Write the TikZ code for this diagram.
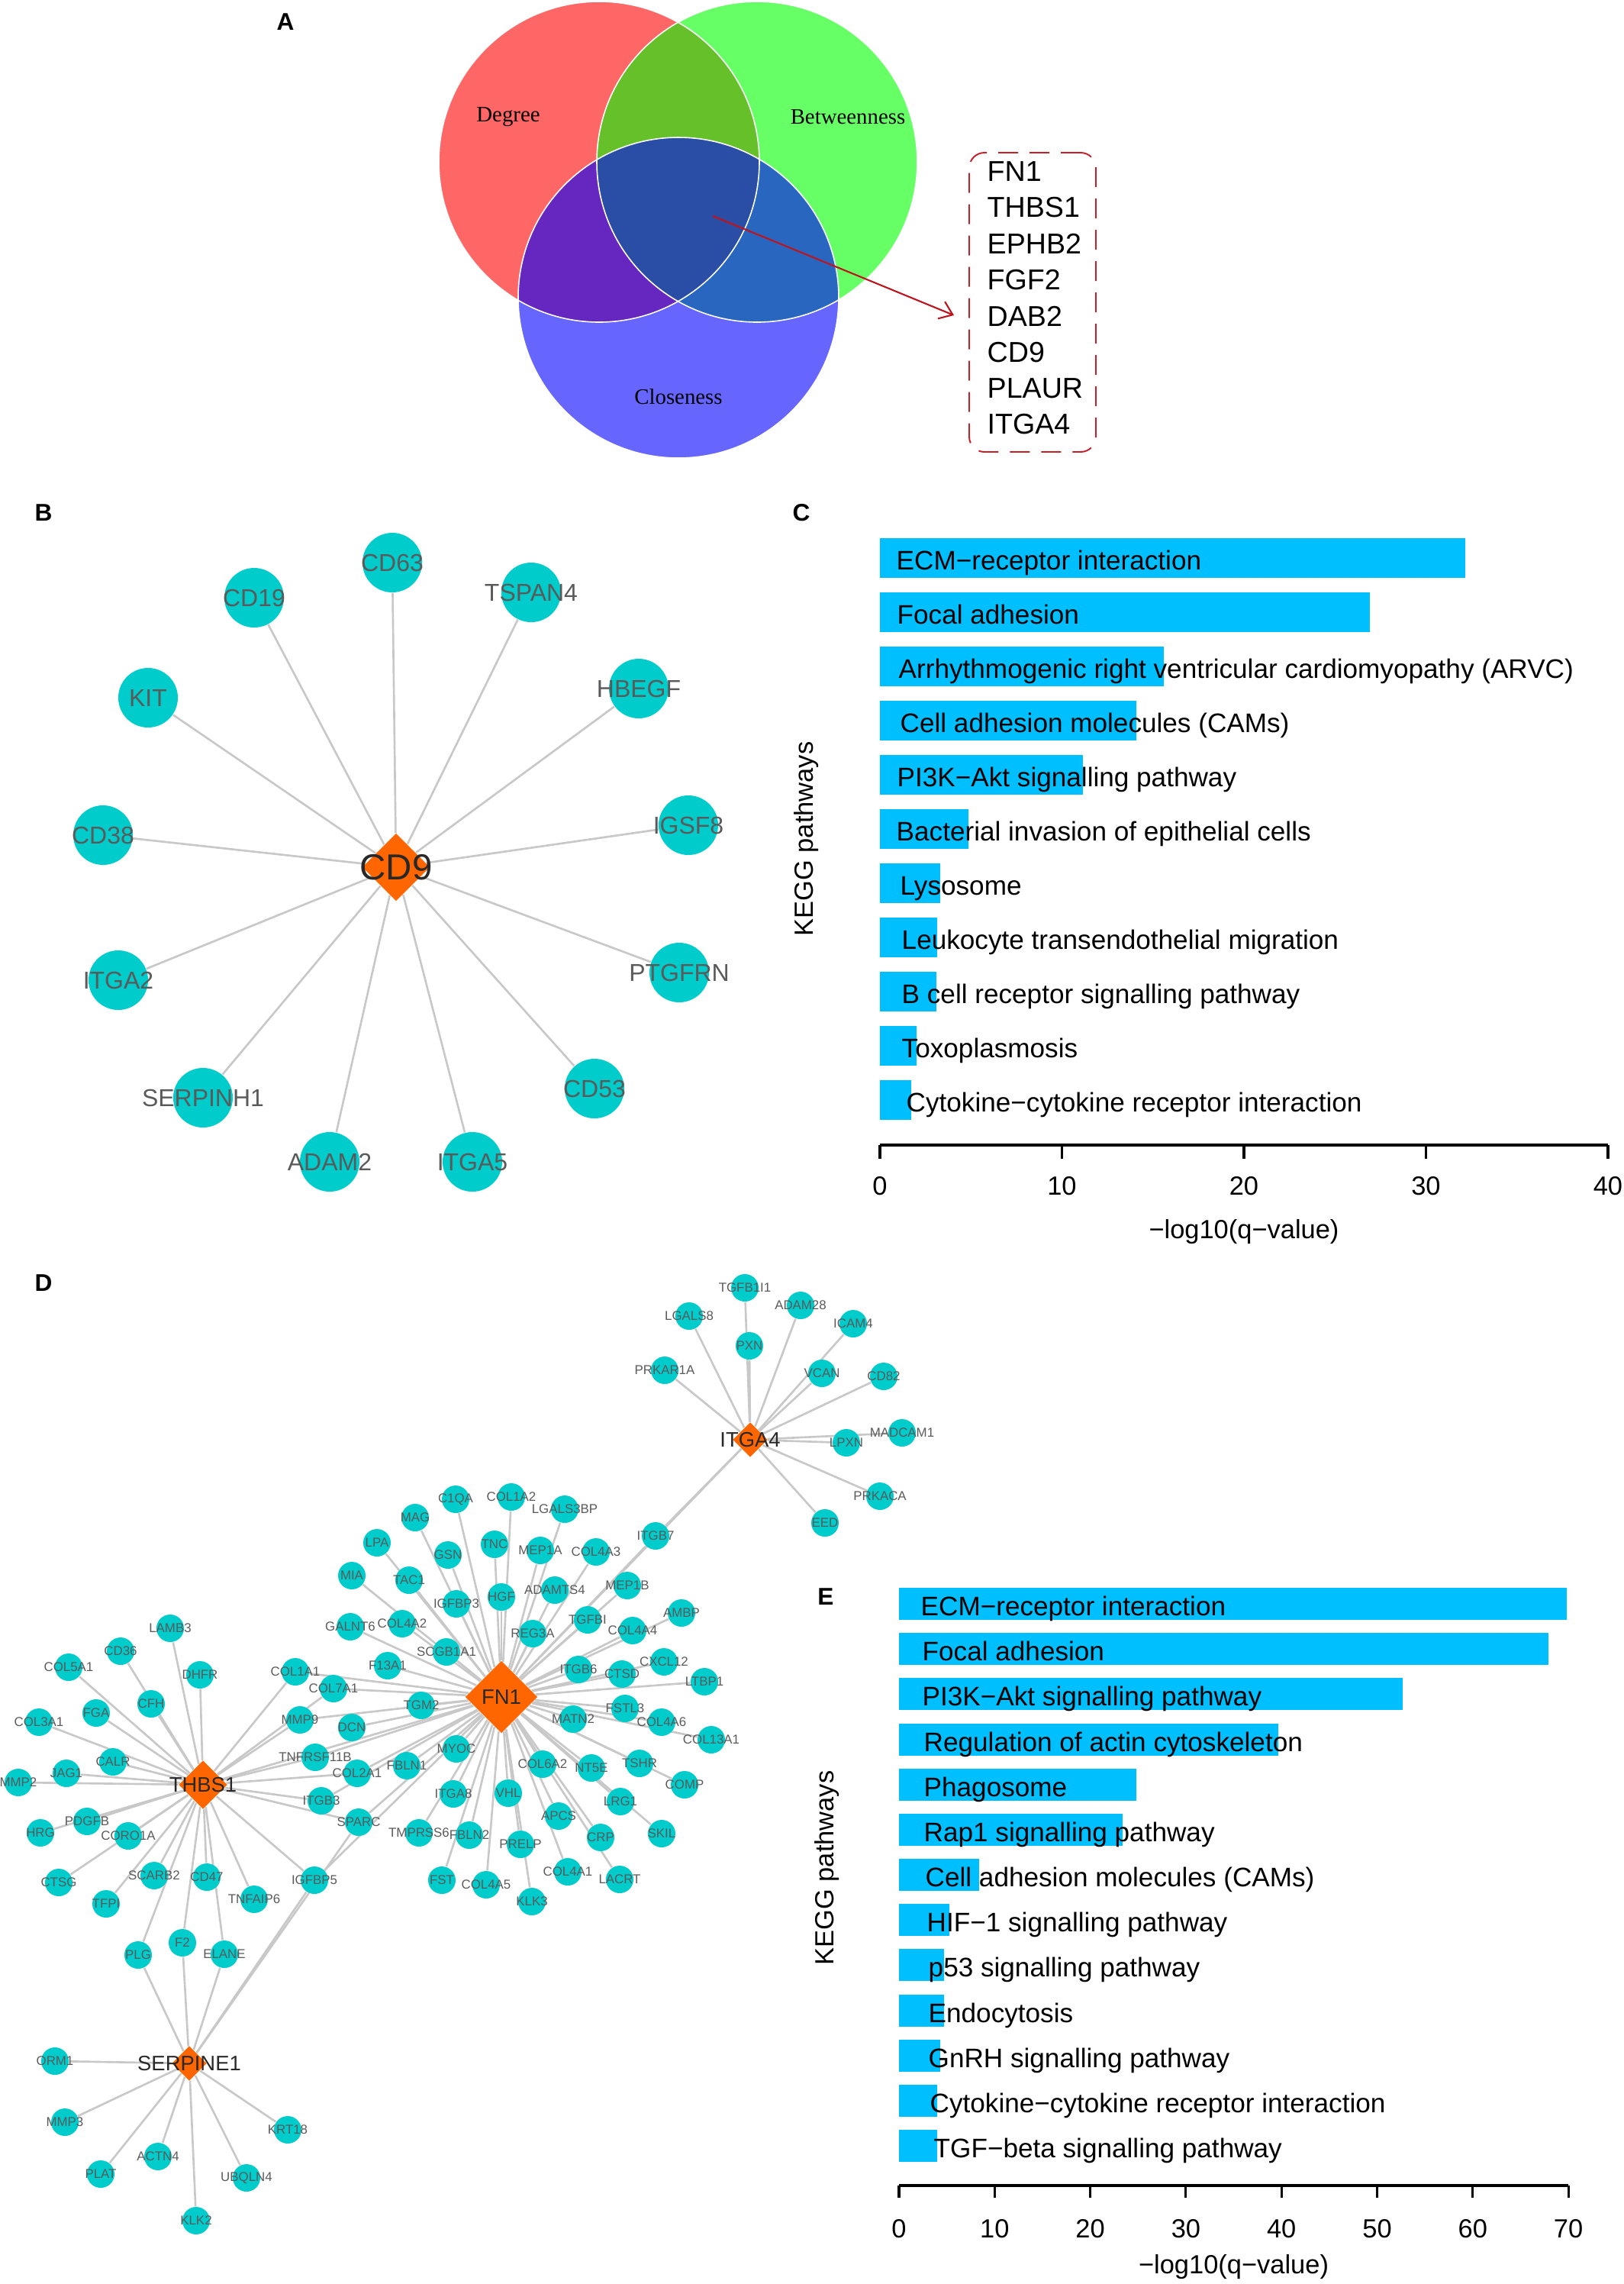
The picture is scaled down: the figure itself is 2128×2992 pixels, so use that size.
\documentclass[tikz,border=0pt]{standalone}
\usepackage{fontspec}
\setmainfont{Liberation Sans}
\newfontfamily\timesfont{Liberation Serif}
\usetikzlibrary{shapes.geometric,arrows.meta,backgrounds}
\definecolor{vred}{RGB}{255,102,102}
\definecolor{vgreen}{RGB}{102,255,102}
\definecolor{vblue}{RGB}{102,102,255}
\definecolor{vrg}{RGB}{102,192,42}
\definecolor{vrb}{RGB}{102,38,192}
\definecolor{vgb}{RGB}{41,102,192}
\definecolor{vrgb}{RGB}{42,77,166}
\definecolor{boxred}{RGB}{200,30,40}
\definecolor{arrred}{RGB}{190,20,30}
\definecolor{geneteal}{RGB}{0,204,204}
\definecolor{hubor}{RGB}{255,102,0}
\definecolor{edgegrey}{RGB}{200,200,200}
\definecolor{glabel}{RGB}{90,90,90}
\definecolor{hlabel}{RGB}{40,40,40}
\definecolor{barblue}{RGB}{0,191,255}
\begin{document}
\begin{tikzpicture}[x=0.1mm,y=-0.1mm,
  leafd/.style={circle,fill=geneteal,inner sep=0pt,minimum size=3.6mm,label={[font=\fontsize{4.8}{5}\selectfont,text=glabel]center:#1}},
  hubd/.style={diamond,aspect=1,fill=hubor,inner sep=0pt,label={[font=\fontsize{7.8}{8}\selectfont,text=hlabel]center:#1}},
  leafb/.style={circle,fill=geneteal,inner sep=0pt,minimum size=7.8mm,label={[font=\fontsize{9.1}{10}\selectfont,text=glabel]center:#1}},
  hubb/.style={diamond,aspect=1,fill=hubor,inner sep=0pt,minimum size=8.9mm,label={[font=\fontsize{13.5}{14}\selectfont,text=hlabel]center:#1}},
  link/.style={draw=edgegrey,line width=0.75pt},
  bar/.style={fill=barblue},
  barlabel/.style={anchor=base west,inner sep=0pt,font=\fontsize{10}{12}\selectfont},
  axislabel/.style={inner sep=0pt,font=\fontsize{9.8}{12}\selectfont},
  axisline/.style={line width=0.9pt},
  panel/.style={inner sep=0pt,font=\fontsize{9}{11}\selectfont\bfseries},
  venn/.style={inner sep=0pt,font=\timesfont\fontsize{8.2}{10}\selectfont},
  listtext/.style={anchor=west,inner sep=0pt,font=\fontsize{10.7}{12}\selectfont}]
\useasboundingbox (0,0) rectangle (2128,2992);

\node[panel] (pa) at (374,29) {A};
\node[panel] (pb) at (57,672) {B};
\node[panel] (pc) at (1050,672) {C};
\node[panel] (pd) at (57,1681) {D};
\node[panel] (pe) at (1082,2092) {E};

\fill[vred] (785,212) circle (210);
\fill[vgreen] (992,212) circle (210);
\fill[vblue] (889,390) circle (210);
\begin{scope}
\clip (785,212) circle (210);
\fill[vrg] (992,212) circle (210);
\end{scope}
\begin{scope}
\clip (785,212) circle (210);
\fill[vrb] (889,390) circle (210);
\end{scope}
\begin{scope}
\clip (992,212) circle (210);
\fill[vgb] (889,390) circle (210);
\end{scope}
\begin{scope}
\clip (785,212) circle (210);
\clip (992,212) circle (210);
\fill[vrgb] (889,390) circle (210);
\end{scope}
\draw[white,line width=0.45pt] (785,212) circle (210);
\draw[white,line width=0.45pt] (992,212) circle (210);
\draw[white,line width=0.45pt] (889,390) circle (210);
\node[venn] (deg) at (666,153) {Degree};
\node[venn] (btw) at (1111,153) {Betweenness};
\node[venn] (clo) at (889,520) {Closeness};

\node[draw=boxred,line width=0.55pt,dash pattern=on 2.6mm off 1.5mm,rounded corners=2mm,minimum width=16.6mm,minimum height=39.2mm] (hublist) at (1353,396) {};
\node[listtext] (l1) at (1293,225) {FN1};
\node[listtext] (l2) at (1293,272) {THBS1};
\node[listtext] (l3) at (1293,319) {EPHB2};
\node[listtext] (l4) at (1293,367) {FGF2};
\node[listtext] (l5) at (1293,414) {DAB2};
\node[listtext] (l6) at (1293,462) {CD9};
\node[listtext] (l7) at (1293,509) {PLAUR};
\node[listtext] (l8) at (1293,556) {ITGA4};
\coordinate (arrtail) at (934,283);
\coordinate (arrtip) at (1250,413);
\draw[arrred,line width=0.6pt,-{Straight Barb[length=1.6mm,width=2.4mm]}] (arrtail) -- (arrtip);

\node[hubb=CD9] (cd9) at (519,1136) {};
\node[leafb=CD63] (cd63) at (514,737) {};
\node[leafb=CD19] (cd19) at (333,783) {};
\node[leafb=TSPAN4] (tspan4) at (696,776) {};
\node[leafb=KIT] (kit) at (194,914) {};
\node[leafb=HBEGF] (hbegf) at (837,902) {};
\node[leafb=CD38] (cd38) at (135,1094) {};
\node[leafb=IGSF8] (igsf8) at (902,1081) {};
\node[leafb=ITGA2] (itga2) at (155,1284) {};
\node[leafb=PTGFRN] (ptgfrn) at (890,1274) {};
\node[leafb=SERPINH1] (serpinh1) at (266,1438) {};
\node[leafb=CD53] (cd53) at (779,1426) {};
\node[leafb=ADAM2] (adam2) at (432,1522) {};
\node[leafb=ITGA5] (itga5) at (619,1522) {};

\node[leafd=TGFB1I1] (tgfbii) at (976,1687) {};
\node[leafd=ADAM28] (adam28) at (1049,1710) {};
\node[leafd=LGALS8] (lgals8) at (903,1724) {};
\node[leafd=ICAM4] (icam4) at (1118,1734) {};
\node[leafd=PXN] (pxn) at (982,1763) {};
\node[leafd=PRKAR1A] (prkar1a) at (871,1795) {};
\node[leafd=VCAN] (vcan) at (1077,1799) {};
\node[leafd=CD82] (cd82) at (1158,1803) {};
\node[leafd=MADCAM1] (madcam1) at (1182,1877) {};
\node[leafd=LPXN] (lpxn) at (1109,1890) {};
\node[leafd=PRKACA] (prkaca) at (1153,1960) {};
\node[leafd=EED] (eed) at (1081,1995) {};
\node[leafd=ITGB7] (itgb7) at (859,2012) {};

\node[leafd=C1QA] (c1qa) at (597,1964) {};
\node[leafd=COL1A2] (col1a2) at (670,1961) {};
\node[leafd=MAG] (mag) at (544,1988) {};
\node[leafd=LPA] (lpa) at (494,2021) {};
\node[leafd=TNC] (tnc) at (648,2023) {};
\node[leafd=GSN] (gsn) at (587,2037) {};
\node[leafd=MEP1A] (mep1a) at (708,2031) {};
\node[leafd=MIA] (mia) at (461,2064) {};
\node[leafd=TAC1] (tac1) at (536,2070) {};
\node[leafd=HGF] (hgf) at (657,2092) {};
\node[leafd=IGFBP3] (igfbp3) at (598,2101) {};
\node[leafd=GALNT6] (galnt6) at (459,2131) {};
\node[leafd=COL4A2] (col4a2) at (527,2127) {};
\node[leafd=REG3A] (reg3a) at (698,2140) {};
\node[leafd=SCGB1A1] (scgb1a1) at (585,2164) {};
\node[leafd=F13A1] (f13a1) at (508,2182) {};
\node[leafd=LGALS3BP] (lgals3bp) at (740,1977) {};
\node[leafd=COL4A3] (col4a3) at (781,2033) {};
\node[leafd=MEP1B] (mep1b) at (822,2077) {};
\node[leafd=ADAMTS4] (adamts4) at (727,2083) {};
\node[leafd=AMBP] (ambp) at (893,2113) {};
\node[leafd=TGFBI] (tgfbi) at (770,2122) {};
\node[leafd=COL4A4] (col4a4) at (829,2136) {};
\node[leafd=ITGB6] (itgb6) at (758,2187) {};
\node[leafd=CTSD] (ctsd) at (815,2193) {};
\node[leafd=CXCL12] (cxcl12) at (870,2177) {};
\node[leafd=LTBP1] (ltbp1) at (923,2203) {};
\node[leafd=FSTL3] (fstl3) at (819,2238) {};
\node[leafd=MATN2] (matn2) at (751,2252) {};
\node[leafd=COL4A6] (col4a6) at (867,2256) {};
\node[leafd=COL13A1] (col13a1) at (932,2279) {};
\node[leafd=COL6A2] (col6a2) at (711,2311) {};
\node[leafd=NT5E] (nt5e) at (775,2316) {};
\node[leafd=TSHR] (tshr) at (838,2310) {};
\node[leafd=COMP] (comp) at (897,2338) {};
\node[leafd=LRG1] (lrg1) at (813,2360) {};
\node[leafd=APCS] (apcs) at (732,2379) {};
\node[leafd=SKIL] (skil) at (867,2402) {};
\node[leafd=CRP] (crp) at (787,2407) {};
\node[leafd=COL4A1] (col4a1) at (744,2452) {};
\node[leafd=LACRT] (lacrt) at (812,2462) {};
\node[leafd=KLK3] (klk3) at (697,2491) {};
\node[leafd=PRELP] (prelp) at (682,2416) {};
\node[leafd=VHL] (vhl) at (666,2349) {};
\node[leafd=COL4A5] (col4a5) at (637,2469) {};
\node[leafd=FST] (fst) at (579,2463) {};
\node[leafd=FBLN2] (fbln2) at (615,2404) {};
\node[leafd=TMPRSS6] (tmprss6) at (549,2401) {};
\node[leafd=ITGA8] (itga8) at (594,2350) {};
\node[leafd=MYOC] (myoc) at (598,2291) {};
\node[leafd=FBLN1] (fbln1) at (533,2313) {};
\node[leafd=COL2A1] (col2a1) at (468,2323) {};
\node[leafd=DCN] (dcn) at (461,2263) {};
\node[leafd=TGM2] (tgm2) at (552,2234) {};
\node[leafd=COL7A1] (col7a1) at (437,2212) {};
\node[leafd=COL1A1] (col1a1) at (387,2190) {};
\node[leafd=MMP9] (mmp9) at (393,2253) {};
\node[leafd=TNFRSF11B] (tnfrsf11b) at (413,2302) {};
\node[leafd=ITGB3] (itgb3) at (421,2359) {};
\node[leafd=SPARC] (sparc) at (470,2387) {};
\node[leafd=IGFBP5] (igfbp5) at (412,2463) {};

\node[leafd=LAMB3] (lamb3) at (223,2133) {};
\node[leafd=CD36] (cd36) at (158,2163) {};
\node[leafd=COL5A1] (col5a1) at (90,2184) {};
\node[leafd=DHFR] (dhfr) at (262,2194) {};
\node[leafd=CFH] (cfh) at (198,2232) {};
\node[leafd=FGA] (fga) at (126,2244) {};
\node[leafd=COL3A1] (col3a1) at (51,2256) {};
\node[leafd=CALR] (calr) at (148,2308) {};
\node[leafd=JAG1] (jag1) at (87,2323) {};
\node[leafd=MMP2] (mmp2) at (24,2335) {};
\node[leafd=HRG] (hrg) at (53,2401) {};
\node[leafd=PDGFB] (pdgfb) at (114,2386) {};
\node[leafd=CORO1A] (coro1a) at (168,2405) {};
\node[leafd=CTSG] (ctsg) at (77,2466) {};
\node[leafd=SCARB2] (scarb2) at (202,2457) {};
\node[leafd=CD47] (cd47) at (271,2459) {};
\node[leafd=TFPI] (tfpi) at (139,2494) {};
\node[leafd=TNFAIP6] (tnfaip6) at (333,2488) {};
\node[leafd=F2] (f2) at (239,2545) {};
\node[leafd=PLG] (plg) at (181,2561) {};
\node[leafd=ELANE] (elane) at (294,2560) {};

\node[leafd=ORM1] (orm1) at (72,2700) {};
\node[leafd=MMP3] (mmp3) at (85,2780) {};
\node[leafd=KRT18] (krt18) at (377,2790) {};
\node[leafd=ACTN4] (actn4) at (207,2825) {};
\node[leafd=PLAT] (plat) at (132,2848) {};
\node[leafd=UBQLN4] (ubqln4) at (323,2853) {};
\node[leafd=KLK2] (klk2) at (257,2909) {};

\node[hubd=ITGA4,minimum size=4.6mm] (itga4) at (983,1886) {};
\node[hubd=THBS1,minimum size=6.4mm] (thbs1) at (266,2338) {};
\node[hubd=SERPINE1,minimum size=4.6mm] (serpine1) at (248,2703) {};
\node[hubd=FN1,minimum size=9.5mm] (fn1) at (657,2223) {};

\begin{scope}[on background layer]
\draw[link] (cd9) -- (cd63);
\draw[link] (cd9) -- (cd19);
\draw[link] (cd9) -- (tspan4);
\draw[link] (cd9) -- (kit);
\draw[link] (cd9) -- (hbegf);
\draw[link] (cd9) -- (cd38);
\draw[link] (cd9) -- (igsf8);
\draw[link] (cd9) -- (itga2);
\draw[link] (cd9) -- (ptgfrn);
\draw[link] (cd9) -- (serpinh1);
\draw[link] (cd9) -- (cd53);
\draw[link] (cd9) -- (adam2);
\draw[link] (cd9) -- (itga5);

\draw[link] (itga4) -- (tgfbii);
\draw[link] (itga4) -- (adam28);
\draw[link] (itga4) -- (lgals8);
\draw[link] (itga4) -- (icam4);
\draw[link] (itga4) -- (pxn);
\draw[link] (itga4) -- (prkar1a);
\draw[link] (itga4) -- (vcan);
\draw[link] (itga4) -- (cd82);
\draw[link] (itga4) -- (madcam1);
\draw[link] (itga4) -- (lpxn);
\draw[link] (itga4) -- (prkaca);
\draw[link] (itga4) -- (eed);
\draw[link] (itga4) -- (itgb7);
\draw[link] (itga4) -- (fn1);

\draw[link] (fn1) -- (c1qa);
\draw[link] (fn1) -- (col1a2);
\draw[link] (fn1) -- (mag);
\draw[link] (fn1) -- (lpa);
\draw[link] (fn1) -- (tnc);
\draw[link] (fn1) -- (gsn);
\draw[link] (fn1) -- (mep1a);
\draw[link] (fn1) -- (mia);
\draw[link] (fn1) -- (tac1);
\draw[link] (fn1) -- (hgf);
\draw[link] (fn1) -- (igfbp3);
\draw[link] (fn1) -- (galnt6);
\draw[link] (fn1) -- (col4a2);
\draw[link] (fn1) -- (reg3a);
\draw[link] (fn1) -- (scgb1a1);
\draw[link] (fn1) -- (f13a1);
\draw[link] (fn1) -- (lgals3bp);
\draw[link] (fn1) -- (col4a3);
\draw[link] (fn1) -- (mep1b);
\draw[link] (fn1) -- (adamts4);
\draw[link] (fn1) -- (ambp);
\draw[link] (fn1) -- (tgfbi);
\draw[link] (fn1) -- (col4a4);
\draw[link] (fn1) -- (itgb7);
\draw[link] (fn1) -- (itgb6);
\draw[link] (fn1) -- (ctsd);
\draw[link] (fn1) -- (cxcl12);
\draw[link] (fn1) -- (ltbp1);
\draw[link] (fn1) -- (fstl3);
\draw[link] (fn1) -- (matn2);
\draw[link] (fn1) -- (col4a6);
\draw[link] (fn1) -- (col13a1);
\draw[link] (fn1) -- (col6a2);
\draw[link] (fn1) -- (nt5e);
\draw[link] (fn1) -- (tshr);
\draw[link] (fn1) -- (comp);
\draw[link] (fn1) -- (lrg1);
\draw[link] (fn1) -- (apcs);
\draw[link] (fn1) -- (skil);
\draw[link] (fn1) -- (crp);
\draw[link] (fn1) -- (col4a1);
\draw[link] (fn1) -- (lacrt);
\draw[link] (fn1) -- (klk3);
\draw[link] (fn1) -- (prelp);
\draw[link] (fn1) -- (vhl);
\draw[link] (fn1) -- (col4a5);
\draw[link] (fn1) -- (fst);
\draw[link] (fn1) -- (fbln2);
\draw[link] (fn1) -- (tmprss6);
\draw[link] (fn1) -- (itga8);
\draw[link] (fn1) -- (myoc);
\draw[link] (fn1) -- (fbln1);
\draw[link] (fn1) -- (col2a1);
\draw[link] (fn1) -- (dcn);
\draw[link] (fn1) -- (tgm2);
\draw[link] (fn1) -- (col7a1);
\draw[link] (fn1) -- (col1a1);
\draw[link] (fn1) -- (mmp9);
\draw[link] (fn1) -- (tnfrsf11b);
\draw[link] (fn1) -- (itgb3);
\draw[link] (fn1) -- (sparc);
\draw[link] (fn1) -- (igfbp5);
\draw[link] (fn1) -- (thbs1);

\draw[link] (thbs1) -- (lamb3);
\draw[link] (thbs1) -- (cd36);
\draw[link] (thbs1) -- (col5a1);
\draw[link] (thbs1) -- (dhfr);
\draw[link] (thbs1) -- (cfh);
\draw[link] (thbs1) -- (fga);
\draw[link] (thbs1) -- (col3a1);
\draw[link] (thbs1) -- (calr);
\draw[link] (thbs1) -- (jag1);
\draw[link] (thbs1) -- (mmp2);
\draw[link] (thbs1) -- (hrg);
\draw[link] (thbs1) -- (pdgfb);
\draw[link] (thbs1) -- (coro1a);
\draw[link] (thbs1) -- (ctsg);
\draw[link] (thbs1) -- (scarb2);
\draw[link] (thbs1) -- (cd47);
\draw[link] (thbs1) -- (tfpi);
\draw[link] (thbs1) -- (tnfaip6);
\draw[link] (thbs1) -- (f2);
\draw[link] (thbs1) -- (plg);
\draw[link] (thbs1) -- (elane);
\draw[link] (thbs1) -- (igfbp5);
\draw[link] (thbs1) -- (col1a1);
\draw[link] (thbs1) -- (mmp9);
\draw[link] (thbs1) -- (col7a1);
\draw[link] (thbs1) -- (tnfrsf11b);
\draw[link] (thbs1) -- (col2a1);
\draw[link] (thbs1) -- (itgb3);
\draw[link] (thbs1) -- (sparc);

\draw[link] (serpine1) -- (orm1);
\draw[link] (serpine1) -- (mmp3);
\draw[link] (serpine1) -- (krt18);
\draw[link] (serpine1) -- (actn4);
\draw[link] (serpine1) -- (plat);
\draw[link] (serpine1) -- (ubqln4);
\draw[link] (serpine1) -- (klk2);
\draw[link] (serpine1) -- (plg);
\draw[link] (serpine1) -- (f2);
\draw[link] (serpine1) -- (elane);
\draw[link] (serpine1) -- (igfbp5);
\draw[link] (serpine1) -- (sparc);
\end{scope}

\begin{scope}[shift={(1153,0)},x=2.385mm]
\fill[bar] (0,705) rectangle (32.15,757);
\fill[bar] (0,776) rectangle (26.91,828);
\fill[bar] (0,847) rectangle (15.61,899);
\fill[bar] (0,918) rectangle (14.07,970);
\fill[bar] (0,989) rectangle (11.17,1041);
\fill[bar] (0,1060) rectangle (4.87,1112);
\fill[bar] (0,1131) rectangle (3.30,1183);
\fill[bar] (0,1202) rectangle (3.15,1254);
\fill[bar] (0,1273) rectangle (3.09,1325);
\fill[bar] (0,1344) rectangle (2.03,1396);
\fill[bar] (0,1415) rectangle (1.70,1467);
\draw[axisline] (0,1500) -- (40,1500);
\draw[axisline] (0,1500) -- (0,1518);
\draw[axisline] (10,1500) -- (10,1518);
\draw[axisline] (20,1500) -- (20,1518);
\draw[axisline] (30,1500) -- (30,1518);
\draw[axisline] (40,1500) -- (40,1518);
\node[axislabel] (ct0) at (0,1554) {0};
\node[axislabel] (ct10) at (10,1554) {10};
\node[axislabel] (ct20) at (20,1554) {20};
\node[axislabel] (ct30) at (30,1554) {30};
\node[axislabel] (ct40) at (40,1554) {40};
\node[axislabel] (cx) at (20,1614) {−log10(q−value)};
\end{scope}
\node[axislabel,rotate=90] (cy) at (1057,1099) {KEGG pathways};
\node[barlabel] (c1) at (1174,746) {ECM−receptor interaction};
\node[barlabel] (c2) at (1175,817) {Focal adhesion};
\node[barlabel] (c3) at (1177,888) {Arrhythmogenic right ventricular cardiomyopathy (ARVC)};
\node[barlabel] (c4) at (1179,959) {Cell adhesion molecules (CAMs)};
\node[barlabel] (c5) at (1175,1030) {PI3K−Akt signalling pathway};
\node[barlabel] (c6) at (1174,1101) {Bacterial invasion of epithelial cells};
\node[barlabel] (c7) at (1179,1172) {Lysosome};
\node[barlabel] (c8) at (1181,1243) {Leukocyte transendothelial migration};
\node[barlabel] (c9) at (1181,1314) {B cell receptor signalling pathway};
\node[barlabel] (c10) at (1181,1385) {Toxoplasmosis};
\node[barlabel] (c11) at (1187,1456) {Cytokine−cytokine receptor interaction};

\begin{scope}[shift={(1178,0)},x=1.253mm]
\fill[bar] (0,2080) rectangle (69.8,2122);
\fill[bar] (0,2139) rectangle (67.9,2181);
\fill[bar] (0,2198) rectangle (52.7,2240);
\fill[bar] (0,2258) rectangle (39.7,2300);
\fill[bar] (0,2317) rectangle (24.8,2359);
\fill[bar] (0,2376) rectangle (23.4,2418);
\fill[bar] (0,2435) rectangle (8.4,2477);
\fill[bar] (0,2494) rectangle (5.3,2536);
\fill[bar] (0,2553) rectangle (4.7,2595);
\fill[bar] (0,2613) rectangle (4.7,2655);
\fill[bar] (0,2672) rectangle (4.3,2714);
\fill[bar] (0,2731) rectangle (4.0,2773);
\fill[bar] (0,2790) rectangle (4.0,2832);
\draw[axisline] (0,2863) -- (70,2863);
\draw[axisline] (0,2863) -- (0,2879);
\draw[axisline] (10,2863) -- (10,2879);
\draw[axisline] (20,2863) -- (20,2879);
\draw[axisline] (30,2863) -- (30,2879);
\draw[axisline] (40,2863) -- (40,2879);
\draw[axisline] (50,2863) -- (50,2879);
\draw[axisline] (60,2863) -- (60,2879);
\draw[axisline] (70,2863) -- (70,2879);
\node[axislabel] (et0) at (0,2920) {0};
\node[axislabel] (et10) at (10,2920) {10};
\node[axislabel] (et20) at (20,2920) {20};
\node[axislabel] (et30) at (30,2920) {30};
\node[axislabel] (et40) at (40,2920) {40};
\node[axislabel] (et50) at (50,2920) {50};
\node[axislabel] (et60) at (60,2920) {60};
\node[axislabel] (et70) at (70,2920) {70};
\node[axislabel] (ex) at (35,2970) {−log10(q−value)};
\end{scope}
\node[axislabel,rotate=90] (ey) at (1084,2447) {KEGG pathways};
\node[barlabel] (e1) at (1206,2116) {ECM−receptor interaction};
\node[barlabel] (e2) at (1208,2175) {Focal adhesion};
\node[barlabel] (e3) at (1208,2234) {PI3K−Akt signalling pathway};
\node[barlabel] (e4) at (1210,2294) {Regulation of actin cytoskeleton};
\node[barlabel] (e5) at (1210,2353) {Phagosome};
\node[barlabel] (e6) at (1210,2412) {Rap1 signalling pathway};
\node[barlabel] (e7) at (1212,2471) {Cell adhesion molecules (CAMs)};
\node[barlabel] (e8) at (1214,2530) {HIF−1 signalling pathway};
\node[barlabel] (e9) at (1216,2589) {p53 signalling pathway};
\node[barlabel] (e10) at (1216,2649) {Endocytosis};
\node[barlabel] (e11) at (1216,2708) {GnRH signalling pathway};
\node[barlabel] (e12) at (1218,2767) {Cytokine−cytokine receptor interaction};
\node[barlabel] (e13) at (1223,2826) {TGF−beta signalling pathway};
\end{tikzpicture}
\end{document}
